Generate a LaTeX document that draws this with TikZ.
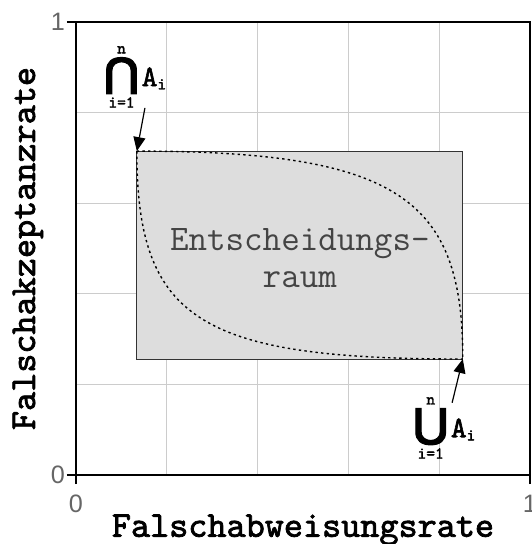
\documentclass[tikz,border=0pt]{standalone}
\usepackage{fontspec}
\setmainfont{Liberation Sans}
\newfontfamily\opfont{DejaVu Sans Bold}[FakeBold=2.5]
\newfontfamily\heavymono{lmmono10-regular.otf}[FakeBold=2]
\usetikzlibrary{arrows.meta}
\definecolor{gridgray}{HTML}{CCCCCC}
\definecolor{boxgray}{HTML}{DDDDDD}
\definecolor{textgray}{HTML}{444444}
\definecolor{tickgray}{HTML}{666666}
\newcommand{\limfont}{\heavymono\fontsize{8.3}{8.3}\selectfont}
\newcommand{\setop}[1]{$\mathop{\hbox{\opfont\fontsize{20}{20}\selectfont #1}}\limits^{\hbox{\limfont n}}_{\hbox{\limfont i=1}}\hbox{\heavymono\fontsize{15}{15}\selectfont A}_{\hbox{\limfont i}}$}
\begin{document}
\begin{tikzpicture}[x=227pt,y=226.5pt,
  gridline/.style={gridgray, line width=0.5pt},
  axis/.style={line width=1pt},
  curve/.style={line width=0.7pt, dash pattern=on 1.2pt off 1.6pt},
  pointer/.style={-{Triangle[length=7pt,width=6pt]}, line width=0.6pt},
  setlabel/.style={inner sep=0pt},
  ticklabel/.style={tickgray, font=\fontsize{12.6}{12.6}\selectfont},
  axislabel/.style={font=\heavymono\fontsize{18.2}{18.2}\selectfont}]
  \useasboundingbox (-0.1674,-0.1523) rectangle (1.0044,1.0486);
  % grid
  \foreach \t in {0.2,0.4,0.6,0.8} {
    \draw[gridline] (\t,0) -- (\t,1);
    \draw[gridline] (0,\t) -- (1,\t);
  }
  % decision region
  \coordinate (tl) at (0.134,0.715);
  \coordinate (br) at (0.852,0.256);
  \filldraw[fill=boxgray, draw=black!80, line width=0.5pt] (tl) rectangle (br);
  \draw[curve] (tl) .. controls (0.714,0.715) and (0.852,0.607) .. (br);
  \draw[curve] (tl) .. controls (0.134,0.342) and (0.273,0.256) .. (br);
  \node[textgray, font=\ttfamily\fontsize{18}{18.5}\selectfont, align=center] (region) at (0.493,0.479) {Entscheidungs-\\raum};
  % frame and axes
  \draw[axis] (0,1) -- (1,1) -- (1,0);
  \draw[axis] (-0.02,0) -- (1,0);
  \draw[axis] (0,-0.02) -- (0,1);
  \draw[axis] (-0.02,1) -- (0,1);
  \draw[axis] (1,-0.02) -- (1,0);
  \node[ticklabel] (y0) at (-0.040,0) {0};
  \node[ticklabel] (y1) at (-0.040,1) {1};
  \node[ticklabel] (x0) at (0,-0.064) {0};
  \node[ticklabel] (x1) at (1,-0.064) {1};
  \node[axislabel] (xlabel) at (0.5,-0.121) {Falschabweisungsrate};
  \node[axislabel, rotate=90] (ylabel) at (-0.106,0.5) {Falschakzeptanzrate};
  % set labels
  \node[setlabel] (capl) at (0.132,0.879) {\setop{⋂}};
  \node[setlabel] (cupl) at (0.813,0.104) {\setop{⋃}};
  \draw[pointer] ([xshift=4.5pt,yshift=1pt]capl.south) -- (tl);
  \draw[pointer] ([xshift=3.5pt,yshift=-4pt]cupl.north) -- (br);
\end{tikzpicture}
\end{document}
